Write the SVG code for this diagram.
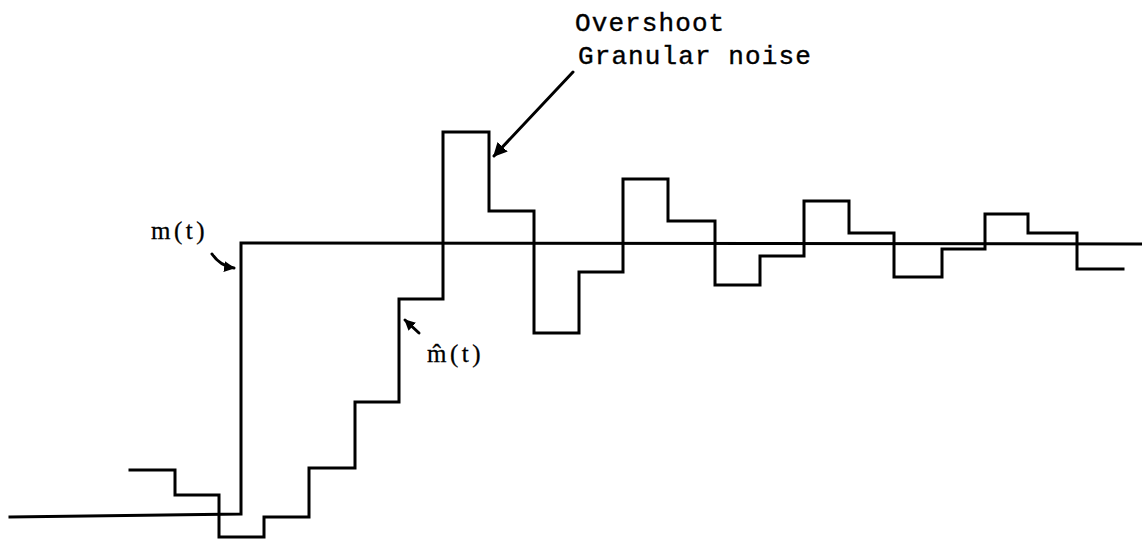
<svg xmlns="http://www.w3.org/2000/svg" width="1142" height="539" viewBox="0 0 1142 539">
  <style>
    .trace { fill: none; stroke: #000; stroke-width: 3; stroke-linejoin: miter; stroke-linecap: square; }
    .pointer { fill: none; stroke: #000; stroke-width: 3; stroke-linecap: round; }
    .note { font-family: "Liberation Mono", "DejaVu Sans Mono", monospace; font-size: 26px; letter-spacing: 1.1px; fill: #000; stroke: #000; stroke-width: 0.4; }
    .sym { font-family: "Liberation Serif", "DejaVu Serif", serif; font-size: 25px; letter-spacing: 3.5px; fill: #000; stroke: #000; stroke-width: 0.3; }
  </style>
  <defs>
    <marker id="head" viewBox="0 0 10 10" refX="9" refY="5" markerWidth="14" markerHeight="14" markerUnits="userSpaceOnUse" orient="auto">
      <path d="M0,0 L10,5 L0,10 Z" fill="#000"/>
    </marker>
    <marker id="head-small" viewBox="0 0 10 10" refX="9" refY="5" markerWidth="11" markerHeight="11" markerUnits="userSpaceOnUse" orient="auto">
      <path d="M0,0 L10,5 L0,10 Z" fill="#000"/>
    </marker>
  </defs>

  <rect width="1142" height="539" fill="#fff"/>

  <!-- signal and its staircase approximation -->
  <g id="connectors">
    <path id="m-signal" class="trace" d="M10,517 L241,514 V243 L1142,244"/>
    <path id="m-hat-signal" class="trace" d="M130,470 H175 V495 H219 V537 H264 V517 H309 V468 H355 V402 H399 V299 H443 V132 H489 V211 H534 V333 H579 V272 H623 V179 H668 V221 H715 V285 H760 V256 H804 V201 H849 V233 H894 V277 H942 V249 H985 V214 H1028 V233 H1077 V269 H1123"/>
    <!-- pointers from labels -->
    <path class="pointer" d="M212,254 Q220,266 234,268" marker-end="url(#head-small)"/>
    <path class="pointer" d="M419,333 L405,320" marker-end="url(#head-small)"/>
    <path class="pointer" d="M573,72 L494,156" marker-end="url(#head)"/>
  </g>

  <g id="label-m">
    <text class="sym" x="151" y="239">m(t)</text>
  </g>
  <g id="label-m-hat">
    <text class="sym" x="427" y="362">m̂(t)</text>
  </g>
  <g id="label-overshoot">
    <text class="note" x="575" y="31">Overshoot</text>
    <text class="note" x="578" y="64">Granular noise</text>
  </g>
</svg>
